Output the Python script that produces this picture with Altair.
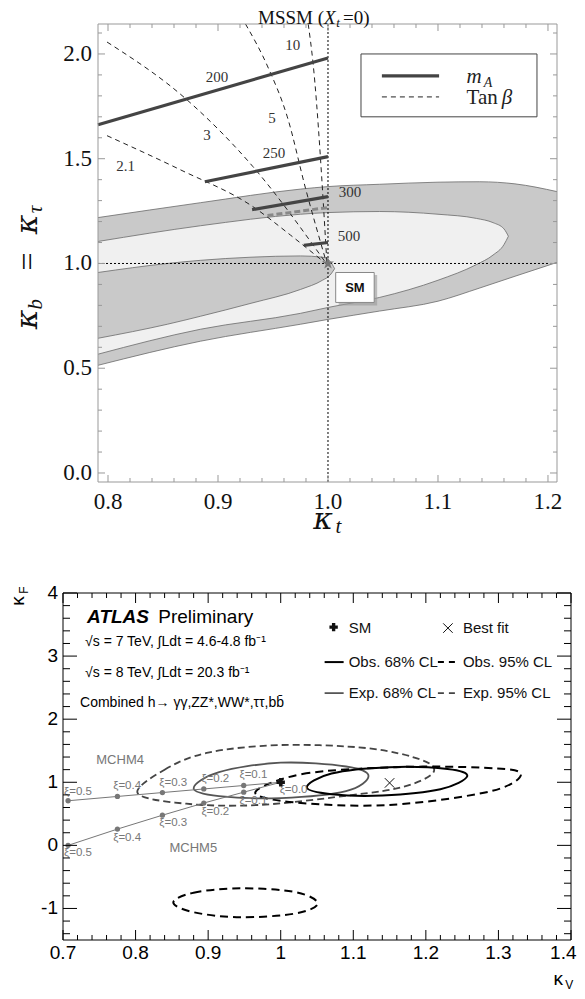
import altair as alt
import pandas as pd
import numpy as np

SERIF = "Liberation Serif"
MATH = "DejaVu Serif"
SANS = "Liberation Sans"

# ======================= TOP PANEL (MSSM) =======================
T_X = [0.7909, 1.2082]
T_Y = [-0.043, 2.143]
T_XR = [90, 549]
T_YR = [474, 16]

band95_x = [0.7909, 0.884, 0.975, 1.0, 1.047, 1.10, 1.138, 1.17, 1.2082]
band95_hi = [1.219, 1.29, 1.355, 1.367, 1.378, 1.388, 1.39, 1.38, 1.343]
band95_lo = [0.514, 0.629, 0.71, 0.733, 0.773, 0.82, 0.883, 0.939, 1.005]

light_x = [0.7909, 0.884, 0.975, 1.0, 1.047, 1.10, 1.135, 1.15, 1.16, 1.164]
light_hi = [1.105, 1.18, 1.235, 1.243, 1.248, 1.235, 1.215, 1.195, 1.165, 1.13]
light_lo = [0.567, 0.686, 0.762, 0.79, 0.838, 0.92, 0.995, 1.04, 1.09, 1.13]

in_x = [0.7909, 0.854, 0.884, 0.93, 0.975, 0.995, 1.002, 1.006]
in_hi = [0.957, 1.0, 1.015, 1.03, 1.036, 1.03, 1.01, 0.975]
in_lo = [0.643, 0.71, 0.748, 0.81, 0.876, 0.92, 0.945, 0.975]

# tan(beta) contours
tb_id = ["2.1"] * 5 + ["3"] * 4 + ["5"] * 5 + ["10"] * 3
tb_x = [0.7991, 0.8655, 0.9318, 0.966, 0.9991,
        0.7991, 0.8718, 0.9318, 0.9991,
        0.925, 0.946, 0.963, 0.980, 0.9991,
        0.982, 0.9864, 0.9991]
tb_y = [1.610, 1.448, 1.271, 1.135, 0.995,
        2.057, 1.781, 1.462, 0.995,
        2.143, 1.93, 1.70, 1.35, 0.995,
        2.143, 1.957, 0.995]

# m_A contours
ma_id = ["200", "200", "250", "250", "300", "300", "500", "500"]
ma_x = [0.7909, 1.0, 0.888, 1.0, 0.931, 1.0, 0.978, 1.0]
ma_y = [1.662, 1.981, 1.39, 1.51, 1.257, 1.319, 1.086, 1.10]
ma2_x = [0.945, 1.0]
ma2_y = [1.229, 1.267]

lab_text = ["10", "200", "5", "3", "250", "2.1", "300", "500"]
lab_x = [0.968, 0.899, 0.949, 0.890, 0.951, 0.816, 1.020, 1.019]
lab_y = [2.043, 1.890, 1.695, 1.614, 1.529, 1.467, 1.343, 1.129]

t_xticks = [0.8, 0.9, 1.0, 1.1, 1.2]
t_xlabels = ["0.8", "0.9", "1.0", "1.1", "1.2"]
t_yticks = [0.0, 0.5, 1.0, 1.5, 2.0]
t_ylabels = ["0.0", "0.5", "1.0", "1.5", "2.0"]

# ======================= BOTTOM PANEL (ATLAS) =======================
B_X = [0.7, 1.4]
B_Y = [-1.5, 4.0]
B_XR = [55, 563]
B_YR = [932, 585]

xi_vals = ["0.5", "0.4", "0.3", "0.2", "0.1", "0.0"]
m4_x = [0.707, 0.775, 0.837, 0.894, 0.949, 1.0]
m4_y = [0.707, 0.775, 0.837, 0.894, 0.949, 1.0]
m5_x = [0.707, 0.775, 0.837, 0.894, 0.949, 1.0]
m5_y = [0.0, 0.258, 0.478, 0.671, 0.843, 1.0]

m4_lab_x = [0.7207, 0.7884, 0.8519, 0.9099, 0.9624, 1.0177]
m4_lab_y = [0.841, 0.937, 0.984, 1.048, 1.111, 0.873]
m5_lab_x = [0.7207, 0.7884, 0.8519, 0.9099, 0.9624]
m5_lab_y = [-0.127, 0.111, 0.349, 0.524, 0.698]

exp68_x = [0.880, 0.915, 1.0, 1.09, 1.121, 1.09, 1.0, 0.915]
exp68_y = [0.905, 1.16, 1.31, 1.25, 1.10, 0.86, 0.75, 0.78]
obs68_x = [1.036, 1.07, 1.15, 1.23, 1.257, 1.22, 1.14, 1.07]
obs68_y = [0.92, 1.14, 1.24, 1.21, 1.095, 0.89, 0.79, 0.81]
exp95_x = [0.803, 0.84, 0.9, 1.0, 1.12, 1.195, 1.21, 1.17, 1.1, 0.97, 0.87]
exp95_y = [0.825, 1.2, 1.47, 1.59, 1.54, 1.35, 1.15, 0.93, 0.80, 0.64, 0.66]
obs95_x = [0.965, 1.03, 1.16, 1.28, 1.331, 1.29, 1.15, 1.02]
obs95_y = [0.84, 1.13, 1.24, 1.23, 1.14, 0.86, 0.64, 0.68]
isl_x = [0.852, 0.88, 0.944, 1.02, 1.051, 1.02, 0.944, 0.88]
isl_y = [-0.905, -0.75, -0.68, -0.74, -0.92, -1.08, -1.14, -1.06]

best_fit = (1.15, 0.99)
sm_point = (1.0, 1.0)

b_xticks = [0.7, 0.8, 0.9, 1.0, 1.1, 1.2, 1.3, 1.4]
b_xlabels = ["0.7", "0.8", "0.9", "1", "1.1", "1.2", "1.3", "1.4"]
b_yticks = [-1, 0, 1, 2, 3, 4]
b_ylabels = ["-1", "0", "1", "2", "3", "4"]

# ------------------------------------------------------------------
XS1 = alt.Scale(domain=T_X, range=T_XR, nice=False, zero=False)
YS1 = alt.Scale(domain=T_Y, range=T_YR, nice=False, zero=False)
XS2 = alt.Scale(domain=B_X, range=B_XR, nice=False, zero=False)
YS2 = alt.Scale(domain=B_Y, range=B_YR, nice=False, zero=False)


def enc(xs, ys, f_x="x", f_y="y"):
    return dict(x=alt.X(f_x, type="quantitative", scale=xs, axis=None),
                y=alt.Y(f_y, type="quantitative", scale=ys, axis=None))


def text_layer(xs, ys, texts, px, py, **mk):
    df = pd.DataFrame({"x": px, "y": py, "t": texts})
    return alt.Chart(df).mark_text(**mk).encode(**enc(xs, ys), text="t:N")


def tick_rules(xdom, ydom, xrng, yrng, xmaj, xmin_, ymaj, ymin_, lmaj, lmin):
    dx = (xdom[1] - xdom[0]) / abs(xrng[1] - xrng[0])
    dy = (ydom[1] - ydom[0]) / abs(yrng[1] - yrng[0])
    rows = []
    for vals, L in ((xmaj, lmaj), (xmin_, lmin)):
        for v in vals:
            rows.append((v, v, ydom[0], ydom[0] + L * dy))
            rows.append((v, v, ydom[1], ydom[1] - L * dy))
    for vals, L in ((ymaj, lmaj), (ymin_, lmin)):
        for v in vals:
            rows.append((xdom[0], xdom[0] + L * dx, v, v))
            rows.append((xdom[1], xdom[1] - L * dx, v, v))
    return pd.DataFrame(rows, columns=["x", "x2", "y", "y2"])


# ======================= build TOP =======================
top = []


def band(xv, hi, lo, fill):
    df = pd.DataFrame({"x": xv, "hi": hi, "lo": lo})
    area = alt.Chart(df).mark_area(color=fill, interpolate="monotone").encode(
        x=alt.X("x:Q", scale=XS1, axis=None),
        y=alt.Y("hi:Q", scale=YS1, axis=None), y2="lo:Q")
    l1 = alt.Chart(df).mark_line(color="#6a6a6a", strokeWidth=0.8, interpolate="monotone").encode(
        x=alt.X("x:Q", scale=XS1, axis=None), y=alt.Y("hi:Q", scale=YS1, axis=None))
    l2 = alt.Chart(df).mark_line(color="#6a6a6a", strokeWidth=0.8, interpolate="monotone").encode(
        x=alt.X("x:Q", scale=XS1, axis=None), y=alt.Y("lo:Q", scale=YS1, axis=None))
    return [area, l1, l2]


top += band(band95_x, band95_hi, band95_lo, "#c9c9c9")
top += band(light_x, light_hi, light_lo, "#f0f0f0")
top += band(in_x, in_hi, in_lo, "#c9c9c9")

# dotted reference lines
ref_df = pd.DataFrame({"x": [1.0, T_X[0]], "x2": [1.0, T_X[1]], "y": [T_Y[0], 1.0], "y2": [T_Y[1], 1.0]})
top.append(alt.Chart(ref_df).mark_rule(color="black", strokeWidth=1, strokeDash=[2, 2]).encode(
    **enc(XS1, YS1), x2="x2:Q", y2="y2:Q"))

# tan beta
tb_df = pd.DataFrame({"x": tb_x, "y": tb_y, "id": tb_id, "o": list(range(len(tb_x)))})
top.append(alt.Chart(tb_df).mark_line(color="#222", strokeWidth=1, strokeDash=[5, 4], interpolate="monotone").encode(
    **enc(XS1, YS1), detail="id:N", order="o:Q"))

# m_A
ma_df = pd.DataFrame({"x": ma_x, "y": ma_y, "id": ma_id})
top.append(alt.Chart(ma_df).mark_line(color="#444", strokeWidth=3.2).encode(**enc(XS1, YS1), detail="id:N"))
ma2_df = pd.DataFrame({"x": ma2_x, "y": ma2_y})
top.append(alt.Chart(ma2_df).mark_line(color="#888", strokeWidth=3, strokeDash=[6, 3]).encode(**enc(XS1, YS1)))

top.append(text_layer(XS1, YS1, lab_text, lab_x, lab_y, font=SERIF, fontSize=15, color="#333",
                      align="center", baseline="middle"))

# SM star and box
star = "M0,-1L0.2245,-0.309L0.951,-0.309L0.363,0.118L0.588,0.809L0,0.382L-0.588,0.809L-0.363,0.118L-0.951,-0.309L-0.2245,-0.309Z"
top.append(alt.Chart(pd.DataFrame({"x": [1.0], "y": [1.0]})).mark_point(
    shape=star, filled=True, color="#777", size=160, opacity=1).encode(**enc(XS1, YS1)))
shadow_df = pd.DataFrame({"x": [1.0097], "x2": [1.0447], "y": [0.945], "y2": [0.800]})
top.append(alt.Chart(shadow_df).mark_rect(color="#999", opacity=0.6).encode(**enc(XS1, YS1), x2="x2:Q", y2="y2:Q"))
box_df = pd.DataFrame({"x": [1.007], "x2": [1.042], "y": [0.957], "y2": [0.814]})
top.append(alt.Chart(box_df).mark_rect(fill="white", stroke="#888", strokeWidth=1).encode(**enc(XS1, YS1), x2="x2:Q", y2="y2:Q"))
top.append(text_layer(XS1, YS1, ["SM"], [1.0245], [0.884], font=SANS, fontSize=13, fontWeight="bold",
                      color="#111", align="center", baseline="middle"))

# legend box
leg_df = pd.DataFrame({"x": [1.030], "x2": [1.190], "y": [2.0], "y2": [1.70]})
top.append(alt.Chart(leg_df).mark_rect(fill="white", stroke="#444", strokeWidth=1).encode(**enc(XS1, YS1), x2="x2:Q", y2="y2:Q"))
top.append(alt.Chart(pd.DataFrame({"x": [1.049], "x2": [1.101], "y": [1.895]})).mark_rule(
    color="#444", strokeWidth=3.2).encode(**enc(XS1, YS1), x2="x2:Q"))
top.append(alt.Chart(pd.DataFrame({"x": [1.049], "x2": [1.101], "y": [1.795]})).mark_rule(
    color="#222", strokeWidth=1, strokeDash=[5, 4]).encode(**enc(XS1, YS1), x2="x2:Q"))
top.append(text_layer(XS1, YS1, ["m"], [1.126], [1.888], font=SERIF, fontSize=21, fontStyle="italic",
                      color="#222", align="left", baseline="middle"))
top.append(text_layer(XS1, YS1, ["A"], [1.1415], [1.860], font=SERIF, fontSize=14, fontStyle="italic",
                      color="#222", align="left", baseline="middle"))
top.append(text_layer(XS1, YS1, ["Tan"], [1.126], [1.788], font=SERIF, fontSize=21,
                      color="#222", align="left", baseline="middle"))
top.append(text_layer(XS1, YS1, ["β"], [1.158], [1.788], font=SERIF, fontSize=21, fontStyle="italic",
                      color="#222", align="left", baseline="middle"))

# frame + ticks
frame1 = pd.DataFrame({"x": [T_X[0]], "x2": [T_X[1]], "y": [T_Y[0]], "y2": [T_Y[1]]})
top.append(alt.Chart(frame1).mark_rect(fill="transparent", stroke="#999", strokeWidth=1).encode(
    **enc(XS1, YS1), x2="x2:Q", y2="y2:Q"))
t_xminor = [round(v, 2) for v in np.arange(0.8, 1.2001, 0.02) if round(v, 2) not in t_xticks]
t_yminor = [round(v, 1) for v in np.arange(0.0, 2.1001, 0.1) if round(v, 1) not in t_yticks]
tk1 = tick_rules(T_X, T_Y, T_XR, T_YR, t_xticks, t_xminor, t_yticks, t_yminor, 7, 4)
top.append(alt.Chart(tk1).mark_rule(color="#999", strokeWidth=1).encode(**enc(XS1, YS1), x2="x2:Q", y2="y2:Q"))

top.append(text_layer(XS1, YS1, t_xlabels, t_xticks, [-0.138] * 5, font=SERIF, fontSize=23, color="#111",
                      align="center", baseline="middle"))
top.append(text_layer(XS1, YS1, t_ylabels, [0.7855] * 5, t_yticks, font=SERIF, fontSize=23, color="#111",
                      align="right", baseline="middle"))

# axis titles
top.append(text_layer(XS1, YS1, ["κ"], [0.9955], [-0.222], font=MATH, fontSize=30, fontStyle="italic",
                      color="#111", align="center", baseline="middle"))
top.append(text_layer(XS1, YS1, ["t"], [1.0095], [-0.258], font=SERIF, fontSize=21, fontStyle="italic",
                      color="#111", align="center", baseline="middle"))
top.append(text_layer(XS1, YS1, ["κ", "κ"], [0.7273, 0.7273], [0.733, 1.186], font=MATH, fontSize=30,
                      fontStyle="italic", color="#111", align="center", baseline="middle", angle=270))
top.append(text_layer(XS1, YS1, ["b", "τ"], [0.7345, 0.7345], [0.805, 1.258], font=SERIF, fontSize=21,
                      fontStyle="italic", color="#111", align="center", baseline="middle", angle=270))
top.append(text_layer(XS1, YS1, ["="], [0.7273], [1.0095], font=SERIF, fontSize=32,
                      color="#111", align="center", baseline="middle", angle=270))

# title MSSM (X_t=0)
top.append(text_layer(XS1, YS1, ["MSSM ("], [0.9964], [2.17], font=SERIF, fontSize=19, color="#111",
                      align="right", baseline="middle"))
top.append(text_layer(XS1, YS1, ["X"], [0.9964], [2.17], font=SERIF, fontSize=19, fontStyle="italic",
                      color="#111", align="left", baseline="middle"))
top.append(text_layer(XS1, YS1, ["t"], [1.0075], [2.148], font=SERIF, fontSize=13, fontStyle="italic",
                      color="#111", align="left", baseline="middle"))
top.append(text_layer(XS1, YS1, ["=0)"], [1.0137], [2.17], font=SERIF, fontSize=19, color="#111",
                      align="left", baseline="middle"))

# ======================= build BOTTOM =======================
bot = []


def closed(xv, yv, color, width, dash=None):
    df = pd.DataFrame({"x": xv, "y": yv, "o": list(range(len(xv)))})
    kw = dict(color=color, strokeWidth=width, interpolate="cardinal-closed")
    if dash:
        kw["strokeDash"] = dash
    return alt.Chart(df).mark_line(**kw).encode(**enc(XS2, YS2), order="o:Q")


bot.append(closed(exp95_x, exp95_y, "#444", 1.8, [7, 4]))
bot.append(closed(obs95_x, obs95_y, "#000", 2.0, [8, 5]))
bot.append(closed(isl_x, isl_y, "#000", 2.0, [8, 5]))
bot.append(closed(exp68_x, exp68_y, "#555", 1.8))
bot.append(closed(obs68_x, obs68_y, "#000", 2.0))

# MCHM lines
mdf = pd.DataFrame({"x": m4_x + m5_x, "y": m4_y + m5_y, "id": ["4"] * 6 + ["5"] * 6})
bot.append(alt.Chart(mdf).mark_line(color="#777", strokeWidth=1).encode(**enc(XS2, YS2), detail="id:N"))
bot.append(alt.Chart(mdf).mark_point(color="#777", filled=True, size=28, opacity=1).encode(**enc(XS2, YS2)))
bot.append(text_layer(XS2, YS2, ["ξ=" + v for v in xi_vals], m4_lab_x, m4_lab_y, font=SANS, fontSize=11.5,
                      color="#777", align="center", baseline="middle"))
bot.append(text_layer(XS2, YS2, ["ξ=" + v for v in xi_vals[:5]], m5_lab_x, m5_lab_y, font=SANS, fontSize=11.5,
                      color="#777", align="center", baseline="middle"))
bot.append(text_layer(XS2, YS2, ["MCHM4", "MCHM5"], [0.7787, 0.8796], [1.349, -0.048], font=SANS, fontSize=13,
                      color="#777", align="center", baseline="middle"))

# SM and best fit markers
bot.append(alt.Chart(pd.DataFrame({"x": [sm_point[0], 1.0729], "y": [sm_point[1], 3.46]})).mark_point(
    shape="cross", filled=True, color="#111", size=70, opacity=1).encode(**enc(XS2, YS2)))
xshape = "M-1,-1L1,1M-1,1L1,-1"
bot.append(alt.Chart(pd.DataFrame({"x": [best_fit[0], 1.2304], "y": [best_fit[1], 3.444]})).mark_point(
    shape=xshape, filled=False, color="#111", size=90, strokeWidth=1, opacity=1).encode(**enc(XS2, YS2)))

# legend
legl = pd.DataFrame({"x": [1.0605, 1.0605], "x2": [1.0867, 1.0867], "y": [2.905, 2.413]})
bot.append(alt.Chart(legl.iloc[[0]]).mark_rule(color="#000", strokeWidth=2).encode(**enc(XS2, YS2), x2="x2:Q"))
bot.append(alt.Chart(legl.iloc[[1]]).mark_rule(color="#555", strokeWidth=1.8).encode(**enc(XS2, YS2), x2="x2:Q"))
legd = pd.DataFrame({"x": [1.2166, 1.2166], "x2": [1.2414, 1.2414], "y": [2.905, 2.413]})
bot.append(alt.Chart(legd.iloc[[0]]).mark_rule(color="#000", strokeWidth=2, strokeDash=[6, 5]).encode(**enc(XS2, YS2), x2="x2:Q"))
bot.append(alt.Chart(legd.iloc[[1]]).mark_rule(color="#444", strokeWidth=1.8, strokeDash=[6, 5]).encode(**enc(XS2, YS2), x2="x2:Q"))
bot.append(text_layer(XS2, YS2, ["SM", "Obs. 68% CL", "Exp. 68% CL"], [1.0936] * 3, [3.44, 2.905, 2.413],
                      font=SANS, fontSize=15, color="#111", align="left", baseline="middle"))
bot.append(text_layer(XS2, YS2, ["Best fit", "Obs. 95% CL", "Exp. 95% CL"], [1.2511] * 3, [3.44, 2.905, 2.413],
                      font=SANS, fontSize=15, color="#111", align="left", baseline="middle"))

bot.append(text_layer(XS2, YS2, ["ATLAS"], [0.7332], [3.619], font=SANS, fontSize=19, fontWeight="bold",
                      fontStyle="italic", color="#000", align="left", baseline="middle"))
bot.append(text_layer(XS2, YS2, ["Preliminary"], [0.8312], [3.619], font=SANS, fontSize=19,
                      color="#000", align="left", baseline="middle"))
bot.append(text_layer(XS2, YS2, ["√s = 7 TeV, ∫Ldt = 4.6-4.8 fb⁻¹", "√s = 8 TeV, ∫Ldt = 20.3 fb⁻¹"],
                      [0.7304, 0.7304], [3.222, 2.730], font=SANS, fontSize=14, color="#000",
                      align="left", baseline="middle"))
bot.append(text_layer(XS2, YS2, ["Combined h→ γγ,ZZ*,WW*,ττ,bb\u0304"], [0.7235], [2.254], font=SANS,
                      fontSize=14, color="#000", align="left", baseline="middle"))

# frame + ticks
frame2 = pd.DataFrame({"x": [B_X[0]], "x2": [B_X[1]], "y": [B_Y[0]], "y2": [B_Y[1]]})
bot.append(alt.Chart(frame2).mark_rect(fill="transparent", stroke="#000", strokeWidth=1).encode(
    **enc(XS2, YS2), x2="x2:Q", y2="y2:Q"))
b_xminor = [round(v, 2) for v in np.arange(0.72, 1.39, 0.02) if round(v, 2) not in b_xticks]
b_yminor = [round(v, 1) for v in np.arange(-1.4, 3.81, 0.2) if round(v, 1) not in b_yticks]
dx2 = (B_X[1] - B_X[0]) / (B_XR[1] - B_XR[0])
dy2 = (B_Y[1] - B_Y[0]) / (B_YR[0] - B_YR[1])
rows = []
for v in b_xticks:
    rows += [(v, v, B_Y[0], B_Y[0] + 10 * dy2), (v, v, B_Y[1], B_Y[1] - 10 * dy2)]
for v in b_xminor:
    rows += [(v, v, B_Y[0], B_Y[0] + 5 * dy2), (v, v, B_Y[1], B_Y[1] - 5 * dy2)]
for v in b_yticks:
    rows += [(B_X[0], B_X[0] + 14 * dx2, v, v), (B_X[1], B_X[1] - 14 * dx2, v, v)]
for v in b_yminor:
    rows += [(B_X[0], B_X[0] + 7 * dx2, v, v), (B_X[1], B_X[1] - 7 * dx2, v, v)]
tk2 = pd.DataFrame(rows, columns=["x", "x2", "y", "y2"])
bot.append(alt.Chart(tk2).mark_rule(color="#000", strokeWidth=1).encode(**enc(XS2, YS2), x2="x2:Q", y2="y2:Q"))

bot.append(text_layer(XS2, YS2, b_xlabels[:-1], b_xticks[:-1], [-1.706] * (len(b_xticks) - 1), font=SANS,
                      fontSize=19, color="#000", align="center", baseline="middle"))
# last label pulled in so that it stays inside the page
bot.append(text_layer(XS2, YS2, b_xlabels[-1:], [B_X[1] + 5.5 * dx2], [-1.706], font=SANS,
                      fontSize=19, color="#000", align="right", baseline="middle"))
bot.append(text_layer(XS2, YS2, b_ylabels, [0.6931] * len(b_yticks), b_yticks, font=SANS, fontSize=19,
                      color="#000", align="right", baseline="middle"))
bot.append(text_layer(XS2, YS2, ["κ"], [1.3823], [-2.118], font=SANS, fontSize=19, color="#000",
                      align="center", baseline="middle"))
bot.append(text_layer(XS2, YS2, ["V"], [1.3975], [-2.213], font=SANS, fontSize=12, color="#000",
                      align="center", baseline="middle"))
bot.append(text_layer(XS2, YS2, ["κ"], [0.6378], [3.873], font=SANS, fontSize=19, color="#000",
                      align="center", baseline="middle", angle=270))
bot.append(text_layer(XS2, YS2, ["F"], [0.6461], [4.048], font=SANS, fontSize=12, color="#000",
                      align="center", baseline="middle", angle=270))

chart = alt.layer(alt.layer(*top), alt.layer(*bot)).resolve_scale(
    x="independent", y="independent"
).properties(
    width=569, height=983, padding=0, autosize=alt.AutoSizeParams(type="none")
).configure_view(stroke=None)

chart.save("out.html", embed_options={"renderer": "svg", "actions": False})
